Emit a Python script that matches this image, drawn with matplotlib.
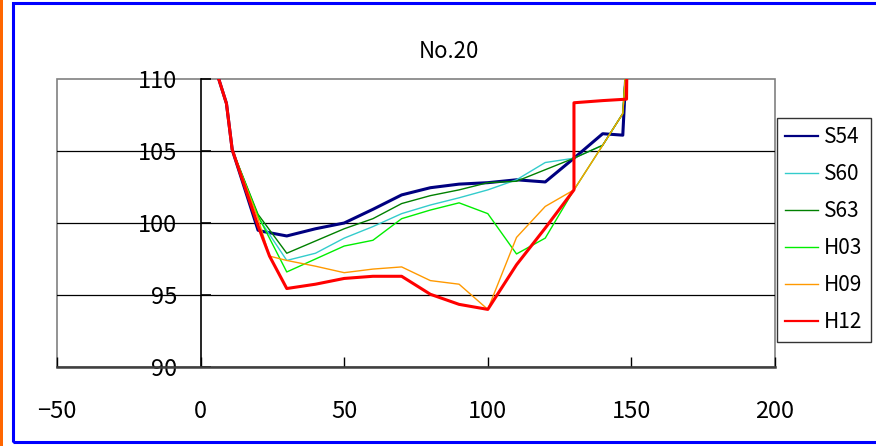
import matplotlib
matplotlib.use("Agg")
import matplotlib.pyplot as plt
from matplotlib.patches import Rectangle

plt.rcParams['font.family'] = ['Noto Sans CJK JP', 'DejaVu Sans']

# cross-section No.20: distance (m) vs. bed elevation (m) for each survey year
x_s54 = [6, 9, 11, 20, 22, 30, 40, 50, 60, 70, 80, 90, 100, 110, 120, 130, 140, 147, 148.5]
y_s54 = [110.2, 108.3, 105.1, 99.5, 99.4, 99.1, 99.6, 100.0, 100.95, 101.95, 102.45, 102.7,
         102.8, 103.0, 102.85, 104.5, 106.2, 106.1, 112]

x_s60 = [6, 9, 11, 20, 30, 40, 50, 60, 70, 80, 90, 100, 110, 120, 130, 140, 147, 148.5]
y_s60 = [110.2, 108.3, 105.1, 100.4, 97.4, 97.9, 98.95, 99.75, 100.65, 101.25, 101.75, 102.3,
         103.0, 104.2, 104.5, 105.4, 107.6, 112]

x_s63 = [6, 9, 11, 20, 30, 40, 50, 60, 70, 80, 90, 100, 110, 120, 130, 140, 147, 148.5]
y_s63 = [110.2, 108.3, 105.1, 100.6, 97.9, 98.75, 99.6, 100.3, 101.35, 101.9, 102.3, 102.8,
         102.9, 103.7, 104.5, 105.4, 107.6, 112]

x_h03 = [6, 9, 11, 20, 30, 40, 50, 60, 70, 80, 90, 100, 110, 120, 130, 140, 147, 148.5]
y_h03 = [110.2, 108.3, 105.1, 100.5, 96.6, 97.5, 98.4, 98.8, 100.3, 100.9, 101.4, 100.65,
         97.85, 98.95, 102.3, 105.4, 107.6, 112]

x_h09 = [6, 9, 11, 20, 24, 30, 40, 50, 60, 70, 80, 90, 100, 110, 120, 130, 140, 147, 148.5]
y_h09 = [110.2, 108.3, 105.1, 100.3, 97.7, 97.4, 97.0, 96.55, 96.8, 96.95, 96.0, 95.75, 94.0,
         99.0, 101.15, 102.3, 105.4, 107.6, 112]

x_h12 = [6, 9, 11, 20, 24, 30, 40, 50, 60, 70, 80, 90, 100, 110, 120, 130, 130, 140, 148.3, 148.5]
y_h12 = [110.2, 108.3, 105.1, 99.8, 97.7, 95.45, 95.75, 96.15, 96.3, 96.3, 95.05, 94.35, 94.0,
         97.1, 99.65, 102.3, 108.35, 108.5, 108.6, 112]

series = [
    ('S54', x_s54, y_s54, '#000080', 2.2),
    ('S60', x_s60, y_s60, '#33CCCC', 1.0),
    ('S63', x_s63, y_s63, '#008000', 1.0),
    ('H03', x_h03, y_h03, '#00EE00', 1.0),
    ('H09', x_h09, y_h09, '#FF9900', 1.0),
    ('H12', x_h12, y_h12, '#FF0000', 2.2),
]

fig = plt.figure(figsize=(8.76, 4.46), dpi=100)
ax = fig.add_axes([57 / 876, 1 - 367 / 446, 718 / 876, 288 / 446])

for yv in [95, 100, 105]:
    ax.axhline(yv, color='black', lw=0.9, zorder=1)

for name, xs, ys, col, lw in series:
    ax.plot(xs, ys, color=col, lw=lw, label=name, zorder=3)

ax.set_xlim(-50, 200)
ax.set_ylim(90, 110)
ax.set_xticks([-50, 0, 50, 100, 150, 200])
ax.set_yticks([90, 95, 100, 105, 110])

# y axis crosses at x = 0, outer frame drawn separately
ax.spines['left'].set_position(('data', 0))
ax.spines['left'].set_color('black')
ax.spines['left'].set_linewidth(1.2)
ax.spines['right'].set_visible(False)
ax.spines['top'].set_visible(False)
ax.spines['bottom'].set_color('#404040')
ax.spines['bottom'].set_linewidth(1.8)
ax.add_patch(Rectangle((0, 0), 1, 1, transform=ax.transAxes, fill=False,
                       edgecolor='#808080', lw=1.2, zorder=0, clip_on=False))

ax.tick_params(axis='y', direction='in', length=7, width=1.2, pad=17, labelsize=17)
ax.tick_params(axis='x', direction='in', length=7, width=1.0, pad=24, labelsize=17)

fig.text(449 / 876, 1 - 52 / 446, 'No.20', ha='center', va='center', fontsize=16)

leg_handles = []
for name, xs, ys, col, lw in series:
    h, = ax.plot([], [], color=col, lw=1.6 if lw > 1.5 else 1.0, label=name)
    leg_handles.append(h)
leg = fig.legend(handles=leg_handles, loc='upper left',
                 bbox_to_anchor=(777 / 876, 1 - 118 / 446), fontsize=15,
                 frameon=True, fancybox=False, borderpad=0.4, labelspacing=0.72,
                 handlelength=1.55, handletextpad=0.3, borderaxespad=0)
leg.get_frame().set_edgecolor('black')
leg.get_frame().set_linewidth(1.0)

# outer chart border
fig.patches.append(Rectangle((13 / 876, 4 / 446), 870 / 876, 439 / 446,
                             transform=fig.transFigure, fill=False,
                             edgecolor='#0000FF', lw=2.2))
fig.patches.append(Rectangle((0, 0), 3 / 876, 1, transform=fig.transFigure,
                             facecolor='#FF6600', edgecolor='none'))

fig.savefig('out.png', dpi=100)
